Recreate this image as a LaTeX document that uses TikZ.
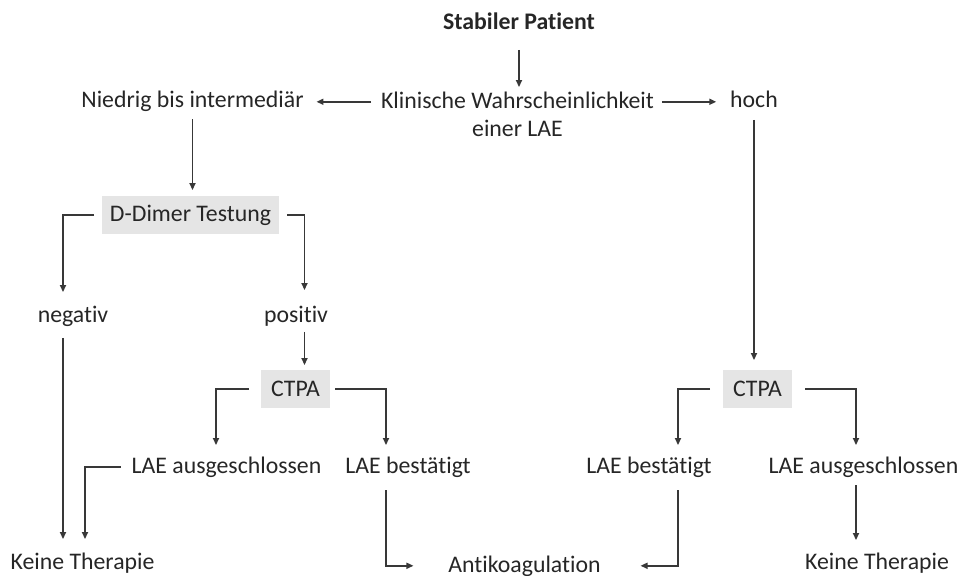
\documentclass[tikz,border=0pt]{standalone}
\usepackage{fontspec}
\setmainfont{Carlito}[Ligatures=NoCommon,RawFeature={-liga;-clig}]
\usepackage{tikz}
\usetikzlibrary{arrows.meta}
\usepackage{xcolor}
\colorlet{mytext}{black!85}
\colorlet{myline}{black!78}
\colorlet{mybox}{black!10}
\newlength{\px}
\setlength{\px}{0.4625pt}
\tikzset{
  >=latex,
  lbl/.style={anchor=base,inner sep=0pt,outer sep=0pt,text=mytext,
              font=\fontsize{11pt}{13.4pt}\selectfont},
  testbox/.style={lbl,anchor=center,fill=mybox,minimum height=38\px},
  arr/.style={-{Triangle[length=3.2pt,width=2.8pt]},draw=myline,line width=0.7pt}
}
\begin{document}
\begin{tikzpicture}[x=0.4625pt,y=-0.4625pt]
  \useasboundingbox (0,0) rectangle (962,576);
  % Top of the chart
  \node[lbl,font=\fontsize{11pt}{13.4pt}\selectfont\bfseries] (stab) at (519,30) {Stabiler Patient};
  \node[lbl,anchor=north,align=center] (klin) at (517.5,91.5) {Klinische Wahrscheinlichkeit\\einer LAE};
  \node[lbl] (nied) at (192.5,108) {Niedrig bis intermediär};
  \node[lbl] (hoch) at (754,108) {hoch};
  % Left branch
  \node[testbox,minimum width=177\px] (dd) at (190.5,215) {D-Dimer Testung};
  \node[lbl] (neg) at (73,323) {negativ};
  \node[lbl] (pos) at (296,323) {positiv};
  \node[testbox,minimum width=69\px] (ctpaL) at (295.5,389) {CTPA};
  \node[lbl] (lausL) at (226.5,473) {LAE ausgeschlossen};
  \node[lbl] (lbestL) at (408,473) {LAE bestätigt};
  \node[lbl] (keineL) at (82.5,569) {Keine Therapie};
  \node[lbl] (anti) at (524.5,572) {Antikoagulation};
  % Right branch
  \node[testbox,minimum width=69\px] (ctpaR) at (757.5,389) {CTPA};
  \node[lbl] (lbestR) at (649,473) {LAE bestätigt};
  \node[lbl] (lausR) at (863.5,473) {LAE ausgeschlossen};
  \node[lbl] (keineR) at (877,569) {Keine Therapie};
  % Connectors at the top
  \draw[arr,shorten <=20\px,shorten >=4.5\px] (stab.base) -- (stab.base |- klin.north);
  \draw[arr,shorten <=10\px,shorten >=13\px] (klin.west |- nied.east) -- (nied.east);
  \draw[arr,shorten <=8\px,shorten >=14\px] (klin.east |- nied.east) -- (hoch.west |- nied.east);
  \draw[arr,shorten <=7\px,shorten >=6\px] (nied.south) -- (nied.south |- dd.north);
  % D-Dimer test
  \draw[arr,shorten <=8\px,shorten >=31\px] (dd.west) -| ([xshift=-10\px]neg.base);
  \draw[arr,shorten <=8\px,shorten >=33\px] (dd.east) -| ([xshift=8.5\px]pos.base);
  \draw[arr,shorten <=9\px,shorten >=5\px] ([xshift=8.5\px]pos.base) -- ([xshift=8.5\px]pos.base |- ctpaL.north);
  \draw[arr,shorten <=15\px,shorten >=30\px] ([xshift=-10\px]neg.base) -- ([xshift=-10\px]neg.base |- keineL.base);
  % CTPA on the left
  \draw[arr,shorten <=12\px,shorten >=28\px] (ctpaL.west) -| ([xshift=-10.5\px]lausL.base);
  \draw[arr,shorten <=5\px,shorten >=28\px] (ctpaL.east) -| ([xshift=-22\px]lbestL.base);
  \draw[arr,shorten <=11\px,shorten >=30\px] (lausL.west) -| ([xshift=2.5\px]keineL.base);
  \draw[arr,shorten <=17\px,shorten >=35\px] ([xshift=-22\px]lbestL.base) |- (anti.west);
  % CTPA on the right
  \draw[arr,shorten <=12\px,shorten >=10\px] (hoch.base) -- (hoch.base |- ctpaR.north);
  \draw[arr,shorten <=13\px,shorten >=28\px] (ctpaR.west) -| ([xshift=29\px]lbestR.base);
  \draw[arr,shorten <=13\px,shorten >=28\px] (ctpaR.east) -| ([xshift=-7.5\px]lausR.base);
  \draw[arr,shorten <=17\px,shorten >=40\px] ([xshift=29\px]lbestR.base) |- (anti.east);
  \draw[arr,shorten <=12\px,shorten >=29\px] ([xshift=-7.5\px]lausR.base) -- ([xshift=-7.5\px]lausR.base |- keineR.base);
\end{tikzpicture}
\end{document}
